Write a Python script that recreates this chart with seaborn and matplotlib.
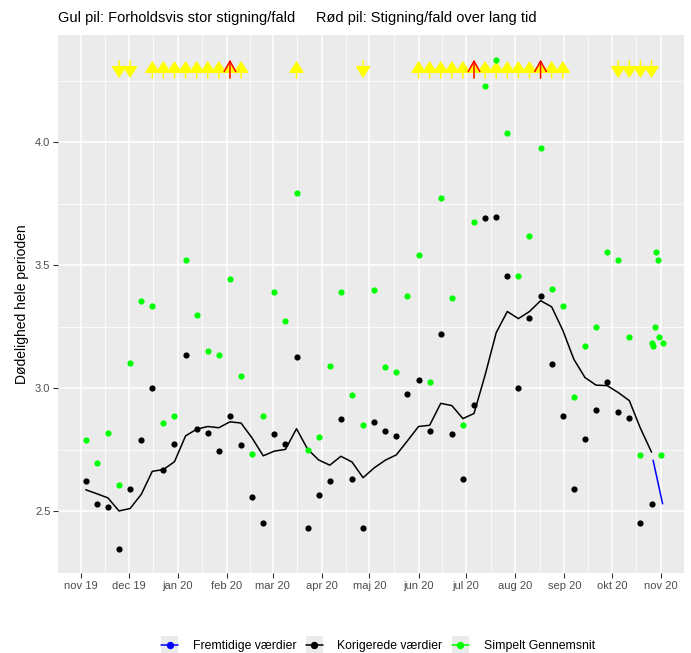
import numpy as np
import pandas as pd
import matplotlib
matplotlib.use("Agg")
import matplotlib.pyplot as plt
from matplotlib.lines import Line2D
from matplotlib.patches import Rectangle
from matplotlib.legend_handler import HandlerLine2D
import seaborn as sns

# ---------------- data ----------------
first_week = "2019-11-04"
n_weeks = 52

korigerede = [2.624, 2.532, 2.519, 2.349, 2.590, 2.789, 3.003, 2.667, 2.774, 3.135,
              2.836, 2.819, 2.745, 2.889, 2.771, 2.559, 2.453, 2.814, 2.774, 3.128,
              2.431, 2.566, 2.624, 2.875, 2.631, 2.434, 2.865, 2.825, 2.807, 2.978,
              3.034, 2.825, 3.222, 2.815, 2.632, 2.933, 3.690, 3.697, 3.456, 3.003,
              3.284, 3.376, 3.098, 2.889, 2.593, 2.793, 2.914, 3.024, 2.902, 2.878,
              2.453, 2.530]

simpelt = [2.789, 2.697, 2.819, 2.609, 3.101, 3.354, 3.336, 2.860, 2.889, 3.521,
           3.299, 3.150, 3.137, 3.445, 3.051, 2.733, 2.887, 3.393, 3.272, 3.793,
           2.749, 2.801, 3.089, 3.391, 2.972, 2.850, 3.400, 3.085, 3.066, 3.376,
           3.543, 3.024, 3.772, 3.367, 2.850, 3.674, 4.229, 4.334, 4.039, 3.456,
           3.620, 3.977, 3.405, 3.333, 2.966, 3.171, 3.248, 3.554, 3.521, 3.207,
           2.730, 3.183]

glidende = [2.588, 2.572, 2.555, 2.502, 2.512, 2.569, 2.663, 2.670, 2.702, 2.807,
            2.834, 2.845, 2.840, 2.864, 2.859, 2.798, 2.726, 2.745, 2.752, 2.836,
            2.753, 2.709, 2.688, 2.724, 2.701, 2.637, 2.677, 2.708, 2.730, 2.787,
            2.845, 2.850, 2.939, 2.930, 2.877, 2.898, 3.054, 3.226, 3.312, 3.283,
            3.312, 3.356, 3.331, 3.236, 3.118, 3.044, 3.013, 3.011, 2.983, 2.950,
            2.838, 2.741]

extra_dates = ["2020-10-27", "2020-10-28", "2020-10-29", "2020-10-30",
               "2020-10-31", "2020-11-01", "2020-11-02"]
extra_simpelt = [3.171, 3.248, 3.554, 3.521, 3.207, 2.730, 3.183]

fremtid_dates = ["2020-10-27", "2020-11-02"]
fremtid_values = [2.708, 2.531]

gul_op = [6, 7, 8, 9, 10, 11, 12, 13, 14, 19, 30, 31, 32, 33, 34, 35, 36, 37,
          38, 39, 40, 41, 42, 43]
gul_ned = [3, 4, 25, 48, 49, 50, 51]
roed_op = [13, 35, 41]
arrow_low, arrow_high = 4.26, 4.33

month_labels = ["nov 19", "dec 19", "jan 20", "feb 20", "mar 20", "apr 20", "maj 20",
                "jun 20", "jul 20", "aug 20", "sep 20", "okt 20", "nov 20"]

title = "Gul pil: Forholdsvis stor stigning/fald     Rød pil: Stigning/fald over lang tid"
ylabel = "Dødelighed hele perioden"
legend_labels = ["Fremtidige værdier", "Korigerede værdier", "Simpelt Gennemsnit"]

# ---------------- frames ----------------
weeks = pd.date_range(first_week, periods=n_weeks, freq="7D")
df = pd.DataFrame({"dato": weeks, "korigerede": korigerede,
                   "simpelt": simpelt, "glidende": glidende})
df_green = pd.concat([df[["dato", "simpelt"]],
                      pd.DataFrame({"dato": pd.to_datetime(extra_dates),
                                    "simpelt": extra_simpelt})], ignore_index=True)
df_blue = pd.DataFrame({"dato": pd.to_datetime(fremtid_dates), "v": fremtid_values})

# ---------------- style ----------------
sns.set_theme(style="darkgrid")
plt.rcParams["font.family"] = ["Liberation Sans", "DejaVu Sans"]

fig = plt.figure(figsize=(6.91, 6.53), dpi=100)
ax = fig.add_axes([58 / 691, 1 - 573 / 653, (684 - 58) / 691, (573 - 35) / 653])
ax.set_facecolor("#EBEBEB")
for s in ax.spines.values():
    s.set_visible(False)

# arrows
for i in gul_op:
    ax.annotate("", xy=(weeks[i], arrow_high), xytext=(weeks[i], arrow_low),
                arrowprops=dict(arrowstyle="-|>,head_length=7.2,head_width=4.6",
                                color="#FFFF00", lw=1.1, shrinkA=0, shrinkB=0,
                                mutation_scale=1), zorder=2)
for i in gul_ned:
    ax.annotate("", xy=(weeks[i], arrow_low), xytext=(weeks[i], arrow_high),
                arrowprops=dict(arrowstyle="-|>,head_length=7.2,head_width=4.6",
                                color="#FFFF00", lw=1.1, shrinkA=0, shrinkB=0,
                                mutation_scale=1), zorder=2)
for i in roed_op:
    ax.annotate("", xy=(weeks[i], arrow_high + 0.005), xytext=(weeks[i], arrow_low),
                arrowprops=dict(arrowstyle="->,head_length=7.5,head_width=4.2",
                                color="#FF0000", lw=1.1, shrinkA=0, shrinkB=0,
                                mutation_scale=1), zorder=3)

sns.lineplot(data=df, x="dato", y="glidende", color="black", lw=1.1, ax=ax, zorder=4)
sns.lineplot(data=df_blue, x="dato", y="v", color="#0000FF", lw=1.1, ax=ax, zorder=4)
sns.scatterplot(data=df, x="dato", y="korigerede", color="black", s=20,
                linewidth=0, ax=ax, zorder=5)
sns.scatterplot(data=df_green, x="dato", y="simpelt", color="#00FF00", s=20,
                linewidth=0, ax=ax, zorder=5)

# axes
month_ticks = pd.date_range("2019-11-01", periods=len(month_labels), freq="MS")
ax.set_xticks(month_ticks)
ax.set_xticklabels(month_labels)
mid = month_ticks[:-1] + (month_ticks[1:] - month_ticks[:-1]) / 2
ax.set_xticks(mid, minor=True)
ax.set_yticks([2.5, 3.0, 3.5, 4.0])
ax.set_yticklabels(["2.5", "3.0", "3.5", "4.0"])
ax.set_yticks([2.25, 2.75, 3.25, 3.75, 4.25], minor=True)
ax.set_xlim(pd.Timestamp("2019-10-17 12:00"), pd.Timestamp("2020-11-15 12:00"))
ax.set_ylim(2.25, 4.435)
ax.grid(which="major", color="white", lw=1.1)
ax.grid(which="minor", color="white", lw=0.55)
ax.tick_params(which="major", length=3.5, width=0.8, color="#333333",
               labelsize=8, labelcolor="#4D4D4D", pad=2, bottom=True, left=True)
ax.tick_params(which="minor", length=0)
ax.set_xlabel("")
ax.set_ylabel(ylabel, fontsize=10, color="black", labelpad=4)
ax.set_axisbelow(True)

fig.text(58 / 691, 1 - 18 / 653, title, fontsize=10.5, ha="left", va="center",
         color="black")

# legend with grey key boxes
class KeyHandler(HandlerLine2D):
    def create_artists(self, legend, orig_handle, xdescent, ydescent, width, height,
                       fontsize, trans):
        arts = super().create_artists(legend, orig_handle, xdescent, ydescent, width,
                                      height, fontsize, trans)
        bg = Rectangle((-xdescent, -ydescent - 3), width, height + 6,
                       facecolor="#EBEBEB", edgecolor="none", transform=trans)
        return [bg] + list(arts)

handles = [Line2D([], [], color=c, marker="o", markersize=4.3, lw=1.1)
           for c in ["#0000FF", "black", "#00FF00"]]
hm = {h: KeyHandler(numpoints=1) for h in handles}
fig.legend(handles, legend_labels, loc="center", bbox_to_anchor=(0.547, 1 - 646 / 653),
           ncol=3, frameon=False, fontsize=8.8, handlelength=1.4, handletextpad=1.2,
           columnspacing=0.75, handler_map=hm, labelcolor="black")

fig.savefig("out.png", dpi=100)
